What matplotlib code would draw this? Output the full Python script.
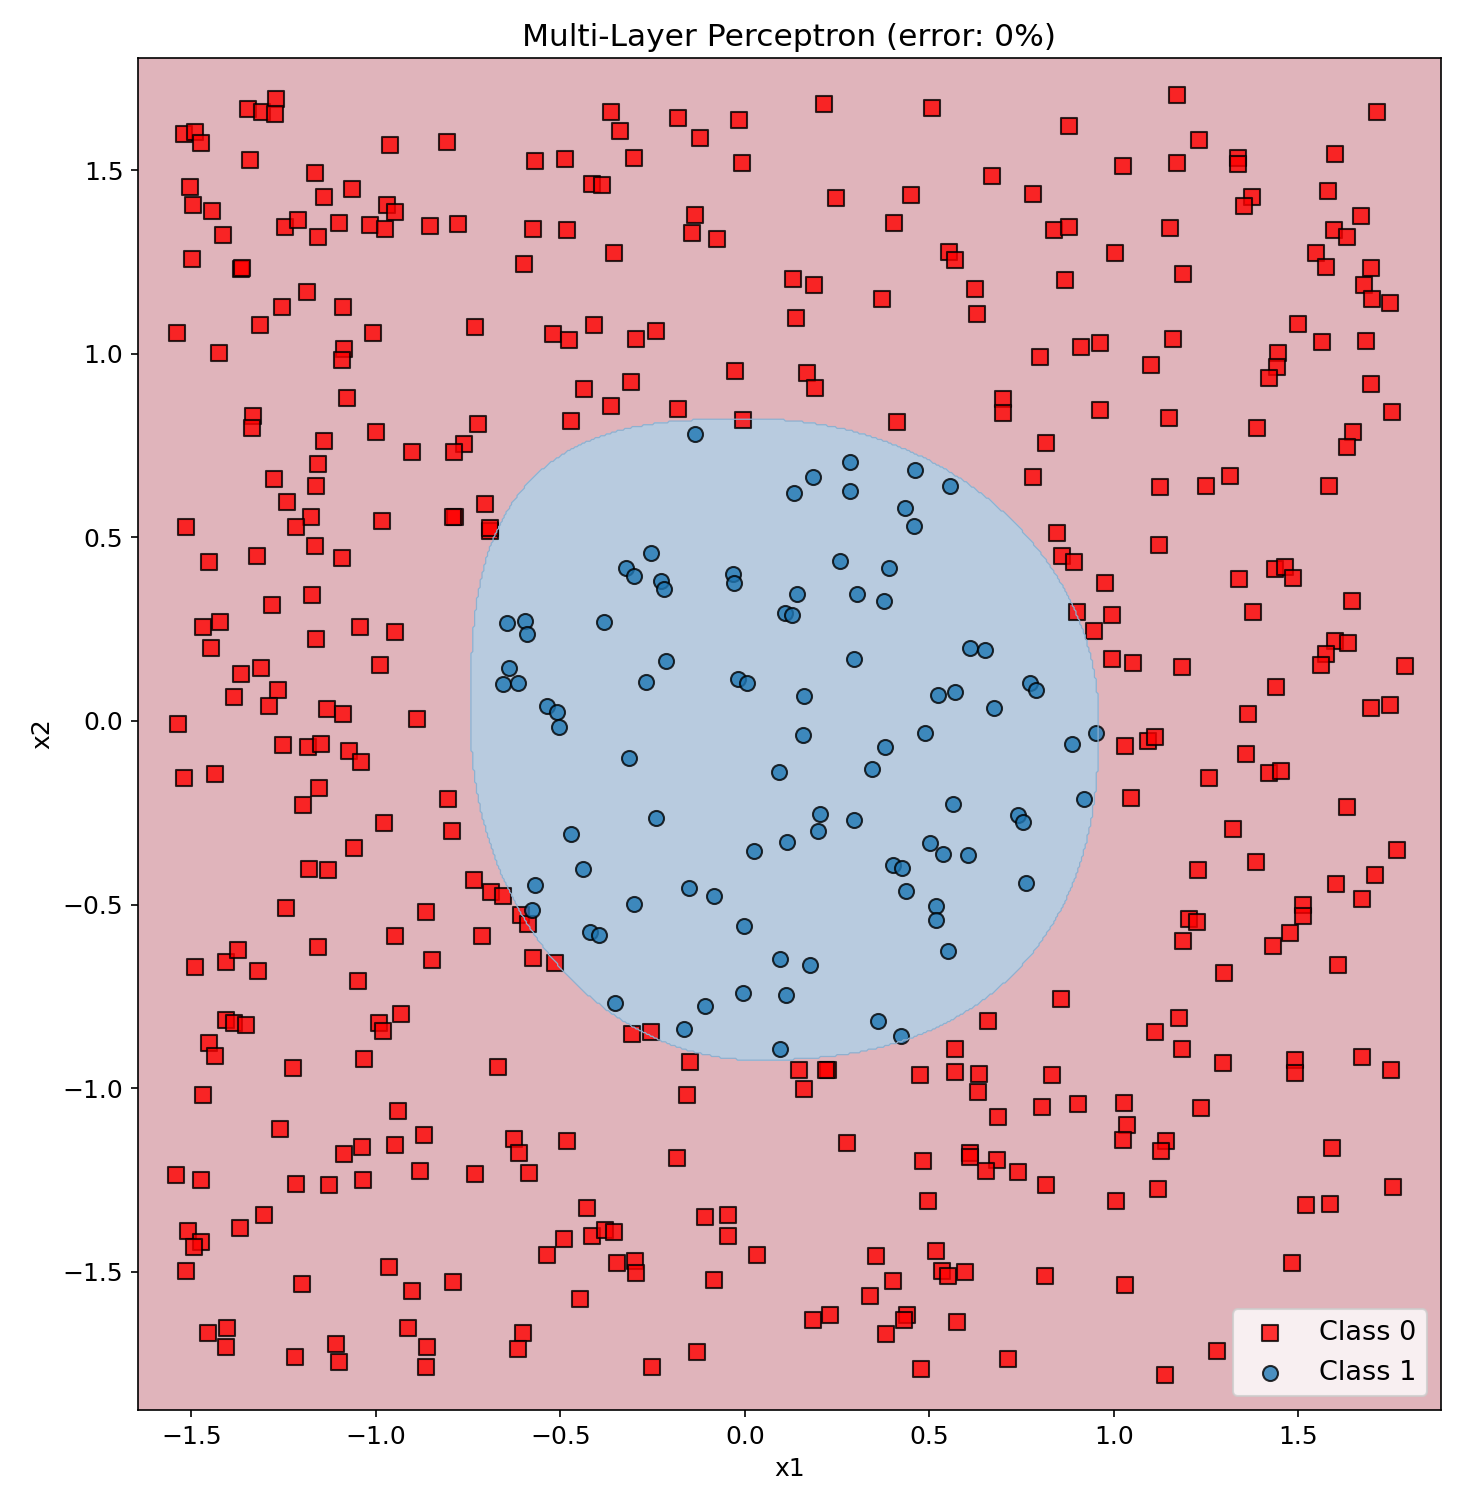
import numpy as np
import matplotlib
matplotlib.use("Agg")
import matplotlib.pyplot as plt
from matplotlib.colors import ListedColormap

# ---------------- data ----------------
class0_x = [
    -1.347,-1.309,-1.270,-1.273,-1.519,-1.490,-1.474,-0.961,-0.807,-0.568,-0.487,-1.341,-1.165,-1.505,-1.064,-1.140,
    -1.496,-1.445,-0.970,-0.948,-1.414,-1.246,-1.211,-1.157,-1.100,-1.017,-0.975,-0.853,-0.777,-0.574,-0.483,-1.498,
    -1.367,-1.362,-0.598,-1.187,-1.254,-1.089,-1.539,-1.314,-1.008,-0.731,-0.520,-0.477,-1.425,-1.086,-1.091,-1.078,-0.436,
    -0.362,-0.338,-0.181,-0.121,-0.015,0.215,0.508,-0.300,-0.007,-0.414,-0.387,0.670,0.248,0.451,-0.135,-0.144,-0.075,
    0.405,-0.354,0.554,0.570,0.131,0.188,0.624,0.372,0.139,0.630,-0.409,-0.295,-0.240,-0.026,0.169,0.191,-0.308,
    1.172,1.714,0.879,1.231,1.025,1.172,1.337,1.337,1.600,0.782,1.581,1.375,1.353,1.671,0.838,0.879,1.153,1.598,1.633,
    1.004,1.549,1.574,0.868,1.188,1.698,1.679,1.701,1.749,1.500,0.800,0.912,0.963,1.161,1.101,1.446,1.443,1.421,1.565,
    1.684,1.698,
    -1.333,-1.336,-1.140,-0.999,-0.902,-0.762,-0.788,-0.723,-0.471,-1.157,-1.276,-1.162,-1.241,-1.176,-1.216,-1.514,
    -0.983,-0.785,-0.792,-0.704,-0.692,-0.692,-1.165,-1.322,-1.452,-1.092,-1.173,-1.281,-1.468,-1.422,-1.447,-1.162,
    -1.043,-0.948,-0.989,-1.365,-1.311,-1.384,-1.265,-1.290,-1.132,-1.089,-0.888,-1.536,
    -0.362,-0.181,-0.005,0.413,0.699,0.699,
    0.963,1.150,1.389,1.755,1.649,1.633,0.817,0.782,1.126,1.250,1.316,1.584,0.847,1.123,0.860,0.893,0.977,1.340,1.438,
    1.465,1.486,1.646,1.378,0.901,0.996,0.947,1.600,1.635,1.574,1.563,1.790,0.996,1.053,1.186,1.440,1.364,1.698,1.749,
    -1.252,-1.184,-1.149,-1.073,-1.041,-1.520,-1.436,-1.154,-1.197,-0.804,-0.978,-0.793,-1.059,-1.181,-1.129,-1.243,
    -0.734,-0.688,-0.655,-0.864,-0.606,-0.587,-0.948,-0.712,-1.157,-0.848,-0.574,-0.514,-1.490,-1.406,-1.374,-1.319,
    -1.048,-1.406,-1.384,-1.352,-0.932,-0.991,-0.980,-1.452,-1.436,-1.032,-1.224,-0.669,
    -0.305,-0.254,-0.148,0.147,0.226,0.221,0.660,0.570,0.570,0.635,0.474,
    1.031,1.094,1.112,1.359,1.259,1.422,1.454,1.047,1.633,1.324,1.768,1.386,1.229,1.709,1.603,1.673,1.513,1.513,1.204,
    1.226,1.188,1.478,1.432,1.608,1.299,0.857,1.177,1.112,1.186,1.297,1.490,1.492,1.673,1.752,0.833,
    -1.468,-0.940,-1.260,-1.086,-1.037,-0.948,-0.869,-0.625,-0.612,-0.482,-1.542,-1.474,-1.216,-1.127,-1.035,-0.880,
    -0.731,-0.585,-1.303,-1.368,-1.509,-1.474,-1.493,-1.514,-1.200,-0.964,-0.902,-0.791,-0.490,-0.536,-1.455,-1.403,
    -1.406,-1.219,-1.108,-1.100,-0.913,-0.861,-0.864,-0.601,-0.615,
    -0.156,0.161,0.632,0.687,0.277,-0.184,0.483,0.609,0.609,0.684,0.654,0.497,-0.427,-0.414,-0.379,-0.354,-0.108,-0.045,
    -0.045,0.033,-0.346,-0.297,-0.295,-0.083,-0.446,0.356,0.519,0.535,0.551,0.598,0.402,0.340,0.185,0.231,0.440,0.432,
    0.383,0.576,-0.129,-0.251,0.478,0.712,
    0.806,0.904,1.028,1.036,1.025,1.237,1.142,1.128,0.741,0.817,1.007,1.120,1.592,1.757,1.522,1.587,1.484,0.814,1.031,
    1.280,1.139,
]
class0_y = [
    1.667,1.657,1.693,1.653,1.597,1.604,1.573,1.567,1.575,1.524,1.529,1.526,1.493,1.453,1.448,1.426,
    1.404,1.388,1.405,1.385,1.322,1.344,1.363,1.319,1.355,1.350,1.340,1.347,1.352,1.340,1.338,1.257,
    1.231,1.234,1.243,1.167,1.126,1.126,1.057,1.079,1.056,1.072,1.054,1.038,1.001,1.013,0.984,0.879,0.904,
    1.658,1.605,1.643,1.586,1.635,1.679,1.668,1.532,1.518,1.461,1.458,1.483,1.423,1.431,1.377,1.328,1.311,
    1.357,1.273,1.276,1.254,1.202,1.186,1.175,1.150,1.096,1.107,1.077,1.041,1.061,0.952,0.947,0.906,0.922,
    1.703,1.657,1.619,1.581,1.510,1.518,1.533,1.516,1.543,1.434,1.444,1.426,1.401,1.374,1.336,1.344,1.341,1.336,1.319,
    1.273,1.274,1.235,1.200,1.216,1.232,1.188,1.150,1.139,1.082,0.990,1.017,1.028,1.039,0.968,1.003,0.964,0.933,1.031,
    1.034,0.917,
    0.831,0.797,0.761,0.786,0.731,0.753,0.731,0.808,0.817,0.699,0.658,0.641,0.595,0.554,0.527,0.527,
    0.544,0.554,0.554,0.590,0.517,0.525,0.476,0.450,0.432,0.444,0.342,0.315,0.255,0.270,0.198,0.222,
    0.255,0.243,0.152,0.127,0.143,0.065,0.084,0.040,0.032,0.018,0.005,-0.009,
    0.857,0.849,0.819,0.813,0.877,0.838,
    0.846,0.824,0.797,0.840,0.787,0.745,0.756,0.663,0.636,0.639,0.667,0.639,0.512,0.478,0.448,0.434,0.375,0.386,0.414,
    0.418,0.388,0.326,0.296,0.298,0.288,0.244,0.217,0.211,0.182,0.152,0.149,0.168,0.157,0.146,0.092,0.018,0.035,0.043,
    -0.065,-0.072,-0.063,-0.082,-0.113,-0.156,-0.145,-0.183,-0.230,-0.213,-0.279,-0.300,-0.347,-0.404,-0.407,-0.510,
    -0.434,-0.466,-0.477,-0.521,-0.527,-0.552,-0.586,-0.586,-0.616,-0.652,-0.646,-0.660,-0.671,-0.657,-0.624,-0.682,
    -0.707,-0.813,-0.821,-0.829,-0.798,-0.821,-0.845,-0.878,-0.913,-0.921,-0.946,-0.943,
    -0.851,-0.848,-0.929,-0.949,-0.949,-0.950,-0.817,-0.894,-0.957,-0.960,-0.964,
    -0.069,-0.054,-0.043,-0.090,-0.156,-0.143,-0.137,-0.211,-0.235,-0.295,-0.352,-0.385,-0.406,-0.420,-0.445,-0.486,-0.501,-0.530,-0.538,
    -0.548,-0.600,-0.578,-0.613,-0.665,-0.687,-0.758,-0.810,-0.848,-0.894,-0.932,-0.923,-0.959,-0.916,-0.949,-0.964,
    -1.019,-1.063,-1.112,-1.180,-1.161,-1.155,-1.128,-1.139,-1.177,-1.144,-1.235,-1.251,-1.261,-1.264,-1.251,-1.224,
    -1.234,-1.232,-1.346,-1.381,-1.390,-1.419,-1.433,-1.498,-1.534,-1.487,-1.553,-1.528,-1.411,-1.455,-1.667,-1.654,
    -1.705,-1.733,-1.697,-1.746,-1.654,-1.705,-1.759,-1.667,-1.711,
    -1.019,-1.002,-1.011,-1.079,-1.150,-1.191,-1.199,-1.177,-1.186,-1.194,-1.226,-1.307,-1.327,-1.401,-1.387,-1.392,-1.351,-1.346,
    -1.401,-1.455,-1.477,-1.469,-1.504,-1.523,-1.574,-1.458,-1.444,-1.498,-1.512,-1.501,-1.525,-1.566,-1.632,-1.616,-1.618,-1.632,
    -1.670,-1.637,-1.718,-1.759,-1.765,-1.738,
    -1.052,-1.044,-1.041,-1.101,-1.142,-1.055,-1.144,-1.172,-1.229,-1.264,-1.307,-1.273,-1.163,-1.270,-1.319,-1.316,-1.477,-1.510,-1.536,
    -1.716,-1.781,
]
class1_x = [
    -0.644,-0.596,-0.590,-0.639,-0.655,-0.615,-0.536,-0.510,-0.503,
    -0.135,0.285,0.185,0.134,0.285,0.462,0.557,0.435,0.459,-0.254,-0.323,-0.300,-0.227,-0.219,-0.032,-0.029,0.258,
    0.391,0.142,0.304,0.378,0.109,0.129,-0.381,-0.213,-0.268,-0.018,0.006,0.161,0.295,0.611,0.651,0.523,0.570,0.676,
    0.158,0.489,
    0.773,0.788,0.952,
    -0.471,-0.568,-0.576,
    0.380,-0.314,0.093,0.345,0.565,-0.240,0.204,0.199,0.296,0.115,0.025,0.502,0.538,0.605,-0.438,0.402,0.427,-0.151,
    -0.083,-0.300,0.437,0.519,0.519,-0.419,-0.395,-0.002,0.551,0.096,0.177,-0.352,-0.005,0.112,-0.107,-0.165,0.361,
    0.424,0.096,
    0.887,0.920,0.740,0.755,0.763,
]
class1_y = [
    0.268,0.273,0.238,0.143,0.100,0.103,0.040,0.025,-0.017,
    0.781,0.704,0.663,0.620,0.625,0.682,0.639,0.581,0.530,0.456,0.416,0.394,0.381,0.359,0.399,0.375,0.435,
    0.416,0.345,0.345,0.326,0.293,0.289,0.269,0.163,0.105,0.113,0.103,0.067,0.168,0.200,0.192,0.070,0.078,0.035,
    -0.038,-0.034,
    0.103,0.083,-0.034,
    -0.308,-0.447,-0.515,
    -0.072,-0.102,-0.140,-0.131,-0.227,-0.265,-0.254,-0.300,-0.270,-0.330,-0.355,-0.333,-0.363,-0.366,-0.404,-0.393,-0.401,-0.456,
    -0.477,-0.499,-0.464,-0.505,-0.543,-0.574,-0.583,-0.559,-0.625,-0.647,-0.665,-0.769,-0.742,-0.745,-0.777,-0.840,-0.818,
    -0.859,-0.894,
    -0.064,-0.213,-0.256,-0.276,-0.442,
]

title_text = "Multi-Layer Perceptron (error: 0%)"
class_labels = ["Class 0", "Class 1"]
x_label, y_label = "x1", "x2"

# decision region of the trained model (approximated by a quadrant-wise superellipse)
region_center = (0.03, 0.0)
region_half_left, region_half_right = 0.773, 0.929
region_half_top, region_half_bottom = 0.822, 0.923
region_exp = {"ul": 3.0, "ur": 2.0, "ll": 2.0, "lr": 2.4}

# ---------------- figure ----------------
DPI = 150
fig = plt.figure(figsize=(1460 / DPI, 1512 / DPI), dpi=DPI)
ax = fig.add_axes([138 / 1460, 1 - 1410 / 1512, (1441 - 138) / 1460, (1410 - 58) / 1512])

xmin, xmax = -1.645, 1.887
ymin, ymax = -1.876, 1.805
xx, yy = np.meshgrid(np.arange(xmin, xmax, 0.005), np.arange(ymin, ymax, 0.005))
dx = xx - region_center[0]
dy = yy - region_center[1]
a = np.where(dx < 0, region_half_left, region_half_right)
b = np.where(dy > 0, region_half_top, region_half_bottom)
p = np.where(dy > 0, np.where(dx < 0, region_exp["ul"], region_exp["ur"]),
             np.where(dx < 0, region_exp["ll"], region_exp["lr"]))
g = np.abs(dx / a) ** p + np.abs(dy / b) ** p
Z = (g < 1).astype(int)

bg_cmap = ListedColormap(["#e0b4bb", "#b8cbdf"])
ax.contourf(xx, yy, Z, levels=[-0.5, 0.5, 1.5], cmap=bg_cmap)
ax.contour(xx, yy, Z, levels=[0.5], colors=["#8fb0cf"], linewidths=0.6)

ax.scatter(class0_x, class0_y, marker="s", c="red", s=52, alpha=0.8,
           edgecolors="black", linewidths=1.0, label=class_labels[0])
ax.scatter(class1_x, class1_y, marker="o", c="#1f77b4", s=52, alpha=0.8,
           edgecolors="black", linewidths=1.0, label=class_labels[1])

ax.set_xlim(xmin, xmax)
ax.set_ylim(ymin, ymax)
ax.set_xticks([-1.5, -1.0, -0.5, 0.0, 0.5, 1.0, 1.5])
ax.set_yticks([-1.5, -1.0, -0.5, 0.0, 0.5, 1.0, 1.5])
ax.tick_params(labelsize=12)
ax.set_xlabel(x_label, fontsize=12)
ax.set_ylabel(y_label, fontsize=12)
ax.set_title(title_text, fontsize=15)
ax.legend(loc="lower right", fontsize=13)

fig.savefig("out.png", dpi=DPI)
